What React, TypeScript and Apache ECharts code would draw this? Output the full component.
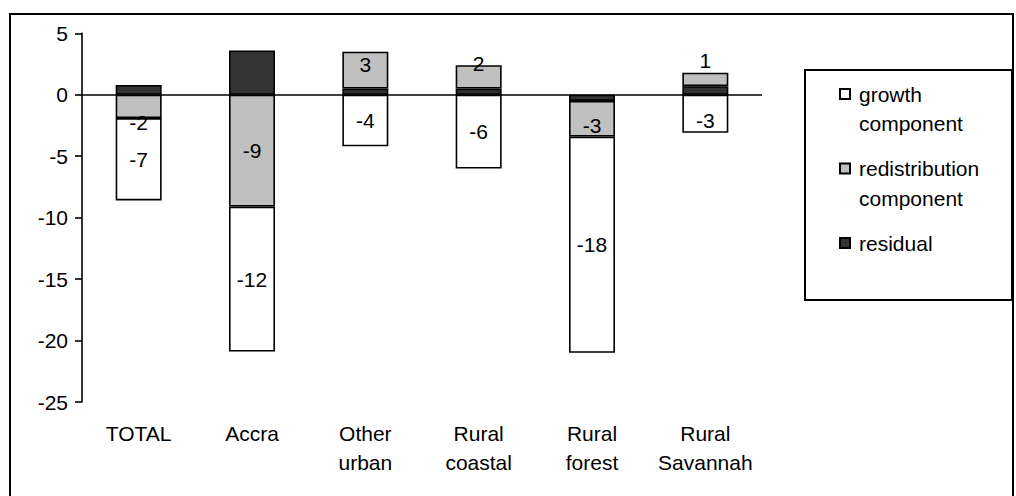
import React, { useEffect, useRef } from "react";
import * as echarts from "echarts";

const categories = ["TOTAL", "Accra", "Other\nurban", "Rural\ncoastal", "Rural\nforest", "Rural\nSavannah"];
const growth = [-6.7, -11.8, -4.2, -6.0, -17.6, -3.1];
const redistribution = [-1.9, -9.1, 3.0, 1.9, -2.9, 1.1];
const residual = [0.8, 3.6, 0.5, 0.5, -0.5, 0.7];
const seriesNames = ["growth component", "redistribution component", "residual"];
const legendLabels: Record<string, string[]> = {
  "growth component": ["growth", "component"],
  "redistribution component": ["redistribution", "component"],
  residual: ["residual", " "],
};
const yMin = -25;
const yMax = 5;
const yStep = 5;

const FONT = "'Liberation Sans', Arial, Helvetica, sans-serif";

// label position tweaks (style only)
const redistLabelTweak: Record<number, any> = {
  0: { offset: [0, 16] },
  2: { offset: [0, -6] },
  3: { offset: [0, -13] },
  4: { offset: [0, 7] },
  5: { position: "top", distance: 2 },
};
const growthLabelTweak: Record<number, any> = {
  5: { offset: [0, 7] },
};

export default function App() {
  const ref = useRef<HTMLDivElement>(null);
  useEffect(() => {
    if (!ref.current) return;
    const chart = echarts.init(ref.current, undefined, { renderer: "svg" });
    const labelBase = {
      show: true,
      position: "inside",
      color: "#000",
      fontSize: 21,
      fontFamily: FONT,
      formatter: (p: any) => String(Math.round(p.value)),
    };
    const barStyle = (color: string) => ({ color, borderColor: "#000", borderWidth: 1.6 });
    const option: any = {
      animation: false,
      backgroundColor: "#fff",
      textStyle: { fontFamily: FONT, color: "#000" },
      grid: { left: 82, right: 254, top: 33.3, bottom: 94 },
      xAxis: {
        type: "category",
        data: categories,
        axisLine: { show: false, onZero: false },
        axisTick: { show: false },
        axisLabel: {
          color: "#000",
          fontSize: 21,
          fontFamily: FONT,
          lineHeight: 29,
          margin: 16.5,
          interval: 0,
        },
      },
      yAxis: {
        type: "value",
        min: yMin,
        max: yMax,
        interval: yStep,
        axisLine: { show: true, lineStyle: { color: "#000", width: 1.6 } },
        axisTick: { show: true, length: 7, lineStyle: { color: "#000", width: 1.6 } },
        splitLine: { show: false },
        axisLabel: { color: "#000", fontSize: 21, fontFamily: FONT, margin: 14 },
      },
      legend: {
        data: seriesNames,
        orient: "vertical",
        left: 839,
        top: 49.75,
        padding: 0,
        itemGap: -14,
        itemWidth: 10,
        itemHeight: 10,
        icon: "rect",
        selectedMode: false,
        formatter: (name: string) => "\n" + (legendLabels[name] ?? [name, " "]).join("\n"),
        textStyle: {
          color: "#000",
          fontSize: 21,
          fontFamily: FONT,
          lineHeight: 29.5,
          padding: [0, 0, 0, 4],
        },
      },
      graphic: [
        {
          type: "rect",
          shape: { x: 10, y: 14, width: 1003, height: 520 },
          style: { fill: "none", stroke: "#000", lineWidth: 2 },
          silent: true,
          z: 100,
        },
        {
          type: "rect",
          shape: { x: 805, y: 70, width: 207, height: 230 },
          style: { fill: "none", stroke: "#000", lineWidth: 2 },
          silent: true,
          z: 100,
        },
      ],
      series: [
        {
          name: "residual",
          type: "bar",
          stack: "total",
          barWidth: 46,
          data: residual,
          itemStyle: barStyle("#333333"),
          label: { show: false },
          markLine: {
            silent: true,
            symbol: "none",
            label: { show: false },
            lineStyle: { color: "#000", width: 1.6, type: "solid" },
            data: [{ yAxis: 0 }],
            z: 10,
          },
        },
        {
          name: "redistribution component",
          type: "bar",
          stack: "total",
          barWidth: 46,
          data: redistribution.map((v, i) => ({ value: v, label: redistLabelTweak[i] })),
          itemStyle: barStyle("#c0c0c0"),
          label: labelBase,
        },
        {
          name: "growth component",
          type: "bar",
          stack: "total",
          barWidth: 46,
          data: growth.map((v, i) => ({ value: v, label: growthLabelTweak[i] })),
          itemStyle: barStyle("#ffffff"),
          label: labelBase,
        },
      ],
    };
    chart.setOption(option);
    return () => chart.dispose();
  }, []);
  return (
    <div
      ref={ref}
      style={{ position: "fixed", left: 0, top: 0, width: 1016, height: 496, background: "#fff" }}
    />
  );
}
